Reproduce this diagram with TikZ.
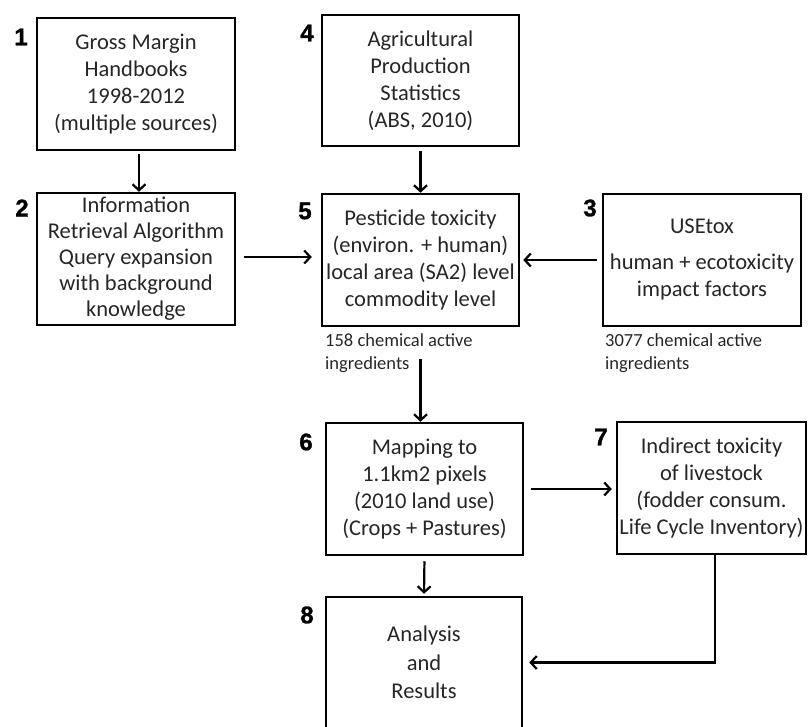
\documentclass[tikz,border=0pt]{standalone}
\usepackage{fontspec}
\setmainfont{Carlito}
\newfontfamily\numfont[BoldFont={Liberation Sans Bold},BoldFeatures={FakeBold=1.2}]{Liberation Sans}
\usetikzlibrary{arrows.meta}
\begin{document}
\begin{tikzpicture}[x=1pt,y=-1pt,
  box/.style={draw=black, line width=2.5pt, inner sep=0pt, align=center,
              font=\fontsize{22.5}{27}\selectfont, text=black!85},
  num/.style={font=\numfont\bfseries\fontsize{24}{28}\selectfont, inner sep=0pt},
  lbl/.style={font=\fontsize{18.5}{23}\selectfont, align=left, anchor=north west,
              inner sep=0pt, text=black!85},
  arr/.style={line width=2.2pt, -{Straight Barb[length=6pt,width=13pt]}}]
\useasboundingbox (0,0) rectangle (808,727);

\node[box, minimum width=198pt, minimum height=132pt] (b1) at (136,84)
  {Gross Margin\\Handbooks\\1998-2012\\(multiple sources)};
\node[box, minimum width=197pt, minimum height=131pt] (b4) at (420.5,80.5)
  {Agricultural\\Production\\Statistics\\(ABS, 2010)};
\node[box, minimum width=198pt, minimum height=132pt,
      font=\fontsize{22.5}{26}\selectfont] (b2) at (136,259)
  {Information\\Retrieval Algorithm\\Query expansion\\with background\\knowledge};
\node[box, minimum width=197pt, minimum height=132pt] (b5) at (420.5,260)
  {Pesticide toxicity\\(environ. + human)\\local area (SA2) level\\commodity level};
\node[box, minimum width=198pt, minimum height=132pt] (b3) at (702,260)
  {USEtox\\[9pt]human + ecotoxicity\\impact factors};
\node[box, minimum width=197pt, minimum height=132pt] (b6) at (424.5,489)
  {Mapping to\\1.1km2 pixels\\(2010 land use)\\(Crops + Pastures)};
\node[box, minimum width=189pt, minimum height=132pt] (b7) at (711.5,488)
  {Indirect toxicity\\of livestock\\(fodder consum.\\Life Cycle Inventory)};
\node[box, minimum width=196pt, minimum height=131pt,
      font=\fontsize{22.5}{28.5}\selectfont] (b8) at (424,662.5)
  {Analysis\\and\\Results};

\node[num] (n1) at (21,37) {1};
\node[num] (n4) at (307,33) {4};
\node[num] (n2) at (22,208) {2};
\node[num] (n5) at (305,211) {5};
\node[num] (n3) at (590,208) {3};
\node[num] (n6) at (306,442) {6};
\node[num] (n7) at (601,437) {7};
\node[num] (n8) at (307,615) {8};

\node[lbl] (l5) at (325,333) {158 chemical active\\ingredients};
\node[lbl] (l3) at (605,333) {3077 chemical active\\ingredients};

\draw[arr, shorten <=3pt] ([xshift=3pt]b1.south) -- ([xshift=3pt]b2.north);
\draw[arr, shorten <=4pt] (b4.south) -- (b5.north);
\draw[arr, shorten <=8pt, shorten >=9pt] ([yshift=2pt]b2.east) -- ([yshift=2pt]b2.east -| b5.west);
\draw[arr, shorten <=5pt, shorten >=3pt] (b3.west) -- (b5.east);
\draw[arr] ([yshift=-32pt]b5.south) -- (b6.north -| b5.south);
\draw[arr, shorten <=7pt, shorten >=4pt] (b6.east) -- (b6.east -| b7.west);
\draw[arr, shorten <=5pt, shorten >=2pt] (b6.south) -- (b8.north);
\draw[arr] ([xshift=3.5pt]b7.south) |- ([xshift=6pt]b8.east);
\end{tikzpicture}
\end{document}
